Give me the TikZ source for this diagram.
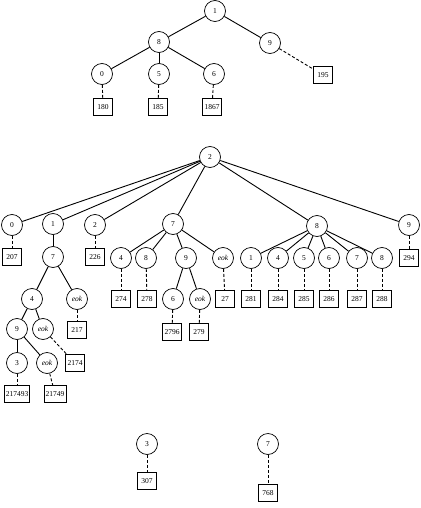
\documentclass[tikz,border=0pt]{standalone}
\usepackage{fontspec}
\setmainfont{Liberation Serif}
\begin{document}
\begin{tikzpicture}[x=1pt,y=-1pt,
  cnode/.style={circle,draw,line width=0.7pt,minimum size=21pt,inner sep=0pt,font=\fontsize{7.5}{8}\selectfont},
  bnode/.style={rectangle,draw,line width=0.7pt,minimum width=19pt,minimum height=17pt,inner sep=1.5pt,font=\fontsize{7.5}{8}\selectfont},
  edge/.style={line width=0.9pt},
  dedge/.style={line width=0.9pt,dash pattern=on 3pt off 2pt}]
\useasboundingbox (0,0) rectangle (420,508);
% top tree
\node[cnode] (t1) at (215,11) {1};
\node[cnode] (t8) at (159,42) {8};
\node[cnode] (t9) at (270,43) {9};
\node[cnode] (t0) at (102,74) {0};
\node[cnode] (t5) at (159,74) {5};
\node[cnode] (t6) at (214,74) {6};
\node[bnode] (b180) at (103,107) {180};
\node[bnode] (b185) at (158,107) {185};
\node[bnode] (b1867) at (212,107) {1867};
\node[bnode] (b195) at (323,75) {195};
\draw[edge] (t1)--(t8); \draw[edge] (t1)--(t9);
\draw[edge] (t8)--(t0); \draw[edge] (t8)--(t5); \draw[edge] (t8)--(t6);
\draw[dedge] (t0)--(b180); \draw[dedge] (t5)--(b185); \draw[dedge] (t6)--(b1867);
\draw[dedge] (t9)--(b195);
% middle tree
\node[cnode] (m2) at (210,157) {2};
\node[cnode] (m0) at (12,225) {0};
\node[cnode] (m1) at (53,224) {1};
\node[cnode] (m2c) at (95,225) {2};
\node[cnode] (m7) at (173,224) {7};
\node[cnode] (m8) at (317,226) {8};
\node[cnode] (m9) at (409,225) {9};
\node[bnode] (b207) at (12,257) {207};
\node[bnode] (b226) at (95,257) {226};
\node[bnode] (b294) at (409,258) {294};
\draw[edge] (m2)--(m0); \draw[edge] (m2)--(m1); \draw[edge] (m2)--(m2c);
\draw[edge] (m2)--(m7); \draw[edge] (m2)--(m8); \draw[edge] (m2)--(m9);
\draw[dedge] (m0)--(b207); \draw[dedge] (m2c)--(b226); \draw[dedge] (m9)--(b294);
% subtree under 1
\node[cnode] (m17) at (53,257) {7};
\node[cnode] (m174) at (32,299) {4};
\node[cnode] (m17e) at (77,299) {\itshape eok};
\node[bnode] (b217) at (77,330) {217};
\node[cnode] (m1749) at (17,329) {9};
\node[cnode] (m174e) at (43,329) {\itshape eok};
\node[bnode] (b2174) at (75,363) {2174};
\node[cnode] (m17493) at (17,363) {3};
\node[cnode] (m1749e) at (47,363) {\itshape eok};
\node[bnode] (b217493) at (17,394) {217493};
\node[bnode] (b21749) at (55,394) {21749};
\draw[edge] (m1)--(m17);
\draw[edge] (m17)--(m174); \draw[edge] (m17)--(m17e);
\draw[dedge] (m17e)--(b217);
\draw[edge] (m174)--(m1749); \draw[edge] (m174)--(m174e);
\draw[dedge] (m174e)--(b2174);
\draw[edge] (m1749)--(m17493); \draw[edge] (m1749)--(m1749e);
\draw[dedge] (m17493)--(b217493); \draw[dedge] (m1749e)--(b21749);
% subtree under 7
\node[cnode] (m74) at (121,258) {4};
\node[cnode] (m78) at (146,258) {8};
\node[cnode] (m79) at (186,258) {9};
\node[cnode] (m7e) at (223,258) {\itshape eok};
\node[bnode] (b274) at (121,299) {274};
\node[bnode] (b278) at (147,299) {278};
\node[bnode] (b27) at (225,299) {27};
\node[cnode] (m796) at (173,299) {6};
\node[cnode] (m79e) at (200,299) {\itshape eok};
\node[bnode] (b2796) at (172,332) {2796};
\node[bnode] (b279) at (199,332) {279};
\draw[edge] (m7)--(m74); \draw[edge] (m7)--(m78); \draw[edge] (m7)--(m79); \draw[edge] (m7)--(m7e);
\draw[dedge] (m74)--(b274); \draw[dedge] (m78)--(b278); \draw[dedge] (m7e)--(b27);
\draw[edge] (m79)--(m796); \draw[edge] (m79)--(m79e);
\draw[dedge] (m796)--(b2796); \draw[dedge] (m79e)--(b279);
% subtree under 8
\foreach \n/\x in {1/251,4/278,5/304,6/329,7/357,8/382}{
  \node[cnode] (m8\n) at (\x,258) {\n};
  \node[bnode] (b8\n) at (\x,299) {28\n};
  \draw[edge] (m8)--(m8\n);
  \draw[dedge] (m8\n)--(b8\n);
}
% bottom
\node[cnode] (n3) at (147,444) {3};
\node[bnode] (b307) at (147,481) {307};
\node[cnode] (n7) at (268,444) {7};
\node[bnode] (b768) at (268,493) {768};
\draw[dedge] (n3)--(b307); \draw[dedge] (n7)--(b768);
\end{tikzpicture}
\end{document}
